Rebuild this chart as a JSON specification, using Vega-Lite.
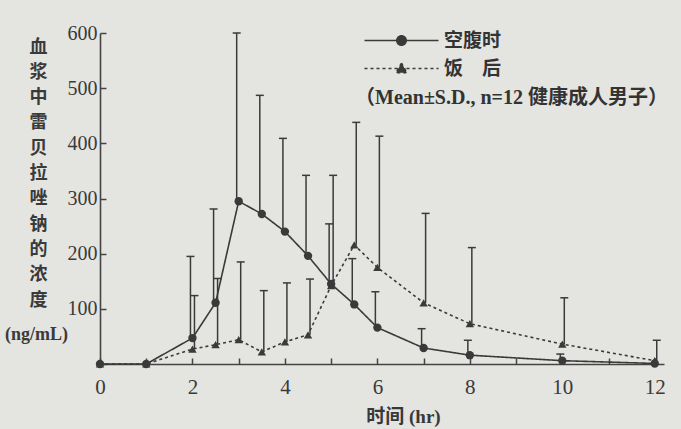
{
  "$schema": "https://vega.github.io/schema/vega-lite/v6.json",
  "width": 564,
  "height": 331,
  "autosize": {"type": "none"},
  "padding": {"left": 100, "top": 33, "right": 17, "bottom": 65},
  "background": "#e4e4e0",
  "config": {"view": {"stroke": null}, "font": "Liberation Serif, Noto Sans CJK SC"},
  "title": {
    "text": "(ng/mL)", "orient": "bottom", "anchor": "start", "frame": "group",
    "dx": -95, "dy": -91, "baseline": "middle", "offset": 0,
    "font": "Liberation Serif", "fontSize": 18, "fontWeight": "bold", "color": "#3a3a3a"
  },
  "data": {
    "values": [
      {"t": 0, "group": "空腹时", "mean": 0, "upper": null},
      {"t": 1, "group": "空腹时", "mean": 0, "upper": null},
      {"t": 2, "group": "空腹时", "mean": 47, "upper": 195},
      {"t": 2.5, "group": "空腹时", "mean": 111, "upper": 281},
      {"t": 3, "group": "空腹时", "mean": 295, "upper": 600},
      {"t": 3.5, "group": "空腹时", "mean": 272, "upper": 487},
      {"t": 4, "group": "空腹时", "mean": 240, "upper": 409},
      {"t": 4.5, "group": "空腹时", "mean": 196, "upper": 342},
      {"t": 5, "group": "空腹时", "mean": 145, "upper": 254},
      {"t": 5.5, "group": "空腹时", "mean": 108, "upper": 191},
      {"t": 6, "group": "空腹时", "mean": 66, "upper": 131},
      {"t": 7, "group": "空腹时", "mean": 29, "upper": 64},
      {"t": 8, "group": "空腹时", "mean": 16, "upper": 43},
      {"t": 10, "group": "空腹时", "mean": 6, "upper": 18},
      {"t": 12, "group": "空腹时", "mean": 1, "upper": null},
      {"t": 0, "group": "饭　后", "mean": 0, "upper": null},
      {"t": 1, "group": "饭　后", "mean": 0, "upper": null},
      {"t": 2, "group": "饭　后", "mean": 27, "upper": 124},
      {"t": 2.5, "group": "饭　后", "mean": 35, "upper": 155},
      {"t": 3, "group": "饭　后", "mean": 44, "upper": 185},
      {"t": 3.5, "group": "饭　后", "mean": 22, "upper": 133},
      {"t": 4, "group": "饭　后", "mean": 40, "upper": 147},
      {"t": 4.5, "group": "饭　后", "mean": 53, "upper": 154},
      {"t": 5, "group": "饭　后", "mean": 142, "upper": 342},
      {"t": 5.5, "group": "饭　后", "mean": 216, "upper": 438},
      {"t": 6, "group": "饭　后", "mean": 175, "upper": 413},
      {"t": 7, "group": "饭　后", "mean": 111, "upper": 273},
      {"t": 8, "group": "饭　后", "mean": 73, "upper": 211},
      {"t": 10, "group": "饭　后", "mean": 36, "upper": 120},
      {"t": 12, "group": "饭　后", "mean": 6, "upper": 43}
    ]
  },
  "encoding": {
    "x": {
      "field": "t", "type": "quantitative",
      "scale": {"domain": [0, 12.2], "nice": false, "zero": false},
      "axis": {
        "title": "时间 (hr)", "titleX": 303, "titleY": 52, "titleBaseline": "middle",
        "titleFontSize": 19, "titleFontWeight": "bold", "titleColor": "#383838",
        "titleFont": "Liberation Serif, Noto Sans CJK SC",
        "values": [0, 1, 2, 3, 4, 5, 6, 7, 8, 9, 10, 11, 12],
        "labelExpr": "datum.value % 2 == 0 ? datum.label : ''",
        "tickSize": -6, "tickWidth": 1.5, "tickColor": "#444",
        "domainColor": "#444", "domainWidth": 1.6,
        "labelFont": "Liberation Serif", "labelFontSize": 21, "labelColor": "#3a3a3a",
        "labelBaseline": "middle", "labelPadding": 29, "labelFlush": false, "labelOverlap": false,
        "grid": false
      }
    },
    "y": {
      "field": "mean", "type": "quantitative",
      "scale": {"domain": [0, 600], "nice": false},
      "axis": {
        "title": ["血", "浆", "中", "雷", "贝", "拉", "唑", "钠", "的", "浓", "度"],
        "titleAngle": 0, "titleX": -62, "titleY": 5, "titleBaseline": "top", "titleAlign": "center",
        "titleLineHeight": 25.3, "titleFontSize": 18, "titleFontWeight": "bold", "titleColor": "#3a3a3a",
        "titleFont": "Noto Sans CJK SC",
        "values": [0, 100, 200, 300, 400, 500, 600],
        "labelExpr": "datum.value == 0 ? '' : datum.label",
        "tickSize": -6, "tickWidth": 1.5, "tickColor": "#444",
        "domainColor": "#444", "domainWidth": 1.6,
        "labelFont": "Liberation Serif", "labelFontSize": 20, "labelColor": "#3a3a3a",
        "labelPadding": 9, "grid": false
      }
    }
  },
  "layer": [
    {
      "mark": {"type": "line", "color": "#3a3a3a", "strokeWidth": 1.6},
      "encoding": {
        "strokeDash": {
          "field": "group", "type": "nominal",
          "scale": {"domain": ["空腹时", "饭　后"], "range": [[1, 0], [3, 3]]},
          "legend": null
        }
      }
    },
    {
      "transform": [{"filter": "datum.group == '空腹时' && isValid(datum.upper)"}],
      "mark": {"type": "rule", "color": "#3a3a3a", "strokeWidth": 1.5, "xOffset": -2},
      "encoding": {"y2": {"field": "upper"}}
    },
    {
      "transform": [{"filter": "datum.group == '饭　后' && isValid(datum.upper)"}],
      "mark": {"type": "rule", "color": "#3a3a3a", "strokeWidth": 1.5, "xOffset": 2},
      "encoding": {"y2": {"field": "upper"}}
    },
    {
      "transform": [{"filter": "datum.group == '空腹时' && isValid(datum.upper)"}],
      "mark": {"type": "tick", "orient": "horizontal", "size": 8, "thickness": 1.5, "color": "#3a3a3a", "opacity": 1, "xOffset": -2},
      "encoding": {"y": {"field": "upper", "type": "quantitative"}}
    },
    {
      "transform": [{"filter": "datum.group == '饭　后' && isValid(datum.upper)"}],
      "mark": {"type": "tick", "orient": "horizontal", "size": 8, "thickness": 1.5, "color": "#3a3a3a", "opacity": 1, "xOffset": 2},
      "encoding": {"y": {"field": "upper", "type": "quantitative"}}
    },
    {
      "mark": {"type": "point", "filled": true, "size": 70, "color": "#3a3a3a", "opacity": 1},
      "encoding": {
        "shape": {
          "field": "group", "type": "nominal",
          "scale": {"domain": ["空腹时", "饭　后"], "range": ["circle", "triangle-up"]},
          "legend": null
        }
      }
    },
    {
      "transform": [{"filter": "false"}],
      "mark": {"type": "point", "filled": true, "size": 100, "color": "#3a3a3a", "stroke": "#3a3a3a", "strokeWidth": 1.5, "opacity": 1},
      "encoding": {
        "shape": {
          "field": "group", "type": "nominal",
          "scale": {
            "domain": ["空腹时", "饭　后"],
            "range": ["M-7.4,0H7.4M-0.95,0A0.95,0.95 0 1,1 0.95,0A0.95,0.95 0 1,1 -0.95,0Z", "M-7.4,0H7.4M0,-1.1L1.1,0.85L-1.1,0.85Z"]
          },
          "legend": {
            "title": "（Mean±S.D., n=12 健康成人男子）",
            "orient": "none", "legendX": 255, "legendY": -2,
            "titleOrient": "bottom", "titleAnchor": "start", "titleFontSize": 20, "titleFontWeight": "bold",
            "titleColor": "#333", "titleFont": "Liberation Serif, Noto Sans CJK SC", "titlePadding": 9, "titleLimit": 500,
            "labelFont": "Noto Sans CJK SC", "labelFontSize": 19, "labelFontWeight": "bold", "labelColor": "#333",
            "labelOffset": 33, "symbolOffset": 37, "rowPadding": 8, "padding": 0, "symbolStrokeWidth": 1.5, "labelLimit": 200
          }
        },
        "strokeDash": {
          "field": "group", "type": "nominal",
          "scale": {"domain": ["空腹时", "饭　后"], "range": [[1, 0], [3, 3]]},
          "legend": {
            "title": "（Mean±S.D., n=12 健康成人男子）",
            "orient": "none", "legendX": 255, "legendY": -2,
            "titleOrient": "bottom", "titleAnchor": "start", "titleFontSize": 20, "titleFontWeight": "bold",
            "titleColor": "#333", "titleFont": "Liberation Serif, Noto Sans CJK SC", "titlePadding": 9, "titleLimit": 500,
            "labelFont": "Noto Sans CJK SC", "labelFontSize": 19, "labelFontWeight": "bold", "labelColor": "#333",
            "labelOffset": 33, "symbolOffset": 37, "rowPadding": 8, "padding": 0, "symbolStrokeWidth": 1.5, "labelLimit": 200
          }
        }
      }
    }
  ],
  "resolve": {"scale": {"shape": "independent", "strokeDash": "independent"}}
}
